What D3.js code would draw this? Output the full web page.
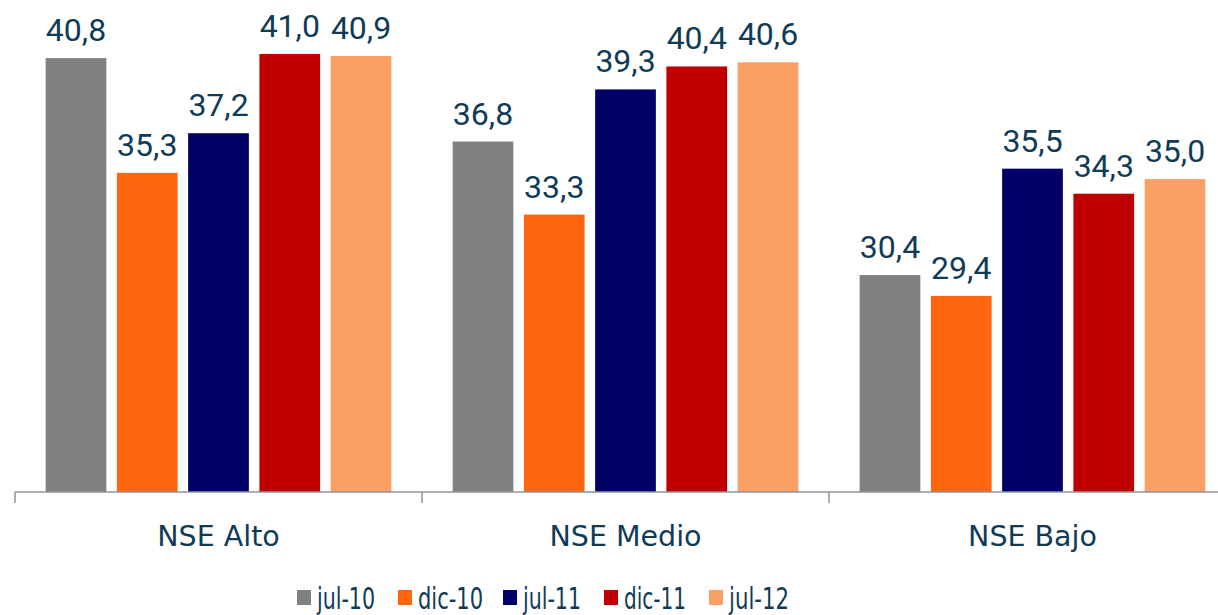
<!DOCTYPE html>
<html><head><meta charset="utf-8">
<script src="https://cdn.jsdelivr.net/npm/d3@7"></script>
<style>
html,body{margin:0;padding:0;background:#fff;}
svg{display:block;}
</style></head>
<body>
<svg id="chart" width="1218" height="615"></svg>
<script>
const categories = ["NSE Alto", "NSE Medio", "NSE Bajo"];
const seriesNames = ["jul-10", "dic-10", "jul-11", "dic-11", "jul-12"];
const jul10 = [40.8, 36.8, 30.4];
const dic10 = [35.3, 33.3, 29.4];
const jul11 = [37.2, 39.3, 35.5];
const dic11 = [41.0, 40.4, 34.3];
const jul12 = [40.9, 40.6, 35.0];
const colors = ["#808080", "#FF6610", "#000066", "#C00000", "#F9A066"];

const seriesValues = [jul10, dic10, jul11, dic11, jul12];
const svg = d3.select("#chart");
const textColor = "#0F3B57";

const x0 = d3.scaleBand().domain(categories).range([15, 1236]).paddingInner(0).paddingOuter(0);
const x1 = d3.scaleBand().domain(seriesNames).range([0, x0.bandwidth()]).paddingInner(0.148).paddingOuter(0.43);
const y = d3.scaleLinear().domain([20, 42]).range([492, 492 - 22 * 20.86]);

const data = [];
categories.forEach((c, i) => {
  seriesNames.forEach((s, j) => {
    data.push({cat: c, ser: s, val: seriesValues[j][i], color: colors[j]});
  });
});

const g = svg.append("g");
g.selectAll("rect.bar").data(data).join("rect")
  .attr("class", "bar")
  .attr("x", d => x0(d.cat) + x1(d.ser))
  .attr("width", x1.bandwidth())
  .attr("y", d => y(d.val))
  .attr("height", d => y(20) - y(d.val))
  .attr("fill", d => d.color);

const fmt = v => d3.format(".1f")(v).replace(".", ",");
g.selectAll("text.val").data(data).join("text")
  .attr("class", "val")
  .attr("x", d => x0(d.cat) + x1(d.ser) + x1.bandwidth() / 2)
  .attr("y", d => y(d.val) - 17)
  .attr("text-anchor", "middle")
  .attr("font-family", "Roboto, sans-serif")
  .attr("font-size", 32)
  .attr("fill", textColor)
  .text(d => fmt(d.val));

// x axis
const axis = d3.axisBottom(x0).tickSize(0).tickFormat("");
const ax = svg.append("g").attr("transform", `translate(0,${y(20)})`).call(axis);
ax.select(".domain").remove();
ax.selectAll(".tick").remove();
ax.append("line").attr("x1", 15).attr("x2", 1236).attr("y1", 0).attr("y2", 0)
  .attr("stroke", "#8E959B").attr("stroke-width", 1.5);
const bounds = categories.map(c => x0(c)).concat([x0.range()[1]]);
ax.selectAll("line.sep").data(bounds).join("line").attr("class", "sep")
  .attr("x1", d => d).attr("x2", d => d).attr("y1", 0).attr("y2", 11)
  .attr("stroke", "#8E959B").attr("stroke-width", 1.5);
ax.selectAll("text.cat").data(categories).join("text").attr("class", "cat")
  .attr("x", d => x0(d) + x0.bandwidth() / 2)
  .attr("y", 54)
  .attr("text-anchor", "middle")
  .attr("font-family", "'DejaVu Sans', Verdana, sans-serif")
  .attr("font-size", 28.5)
  .attr("fill", textColor)
  .text(d => d);

// legend
const legendX = [297, 398, 503, 604, 709];
const legendW = [58, 65, 58, 62, 60];
const legend = svg.append("g");
const items = legend.selectAll("g").data(seriesNames).join("g")
  .attr("transform", (d, i) => `translate(${legendX[i]},0)`);
items.append("rect").attr("x", 0).attr("y", 590).attr("width", 14).attr("height", 15)
  .attr("fill", (d, i) => colors[i]);
items.append("text").attr("x", 20).attr("y", 609)
  .attr("font-family", "'DejaVu Sans', Verdana, sans-serif")
  .attr("font-size", 31)
  .attr("textLength", (d, i) => legendW[i])
  .attr("lengthAdjust", "spacingAndGlyphs")
  .attr("fill", textColor)
  .text(d => d);
</script>
</body></html>
